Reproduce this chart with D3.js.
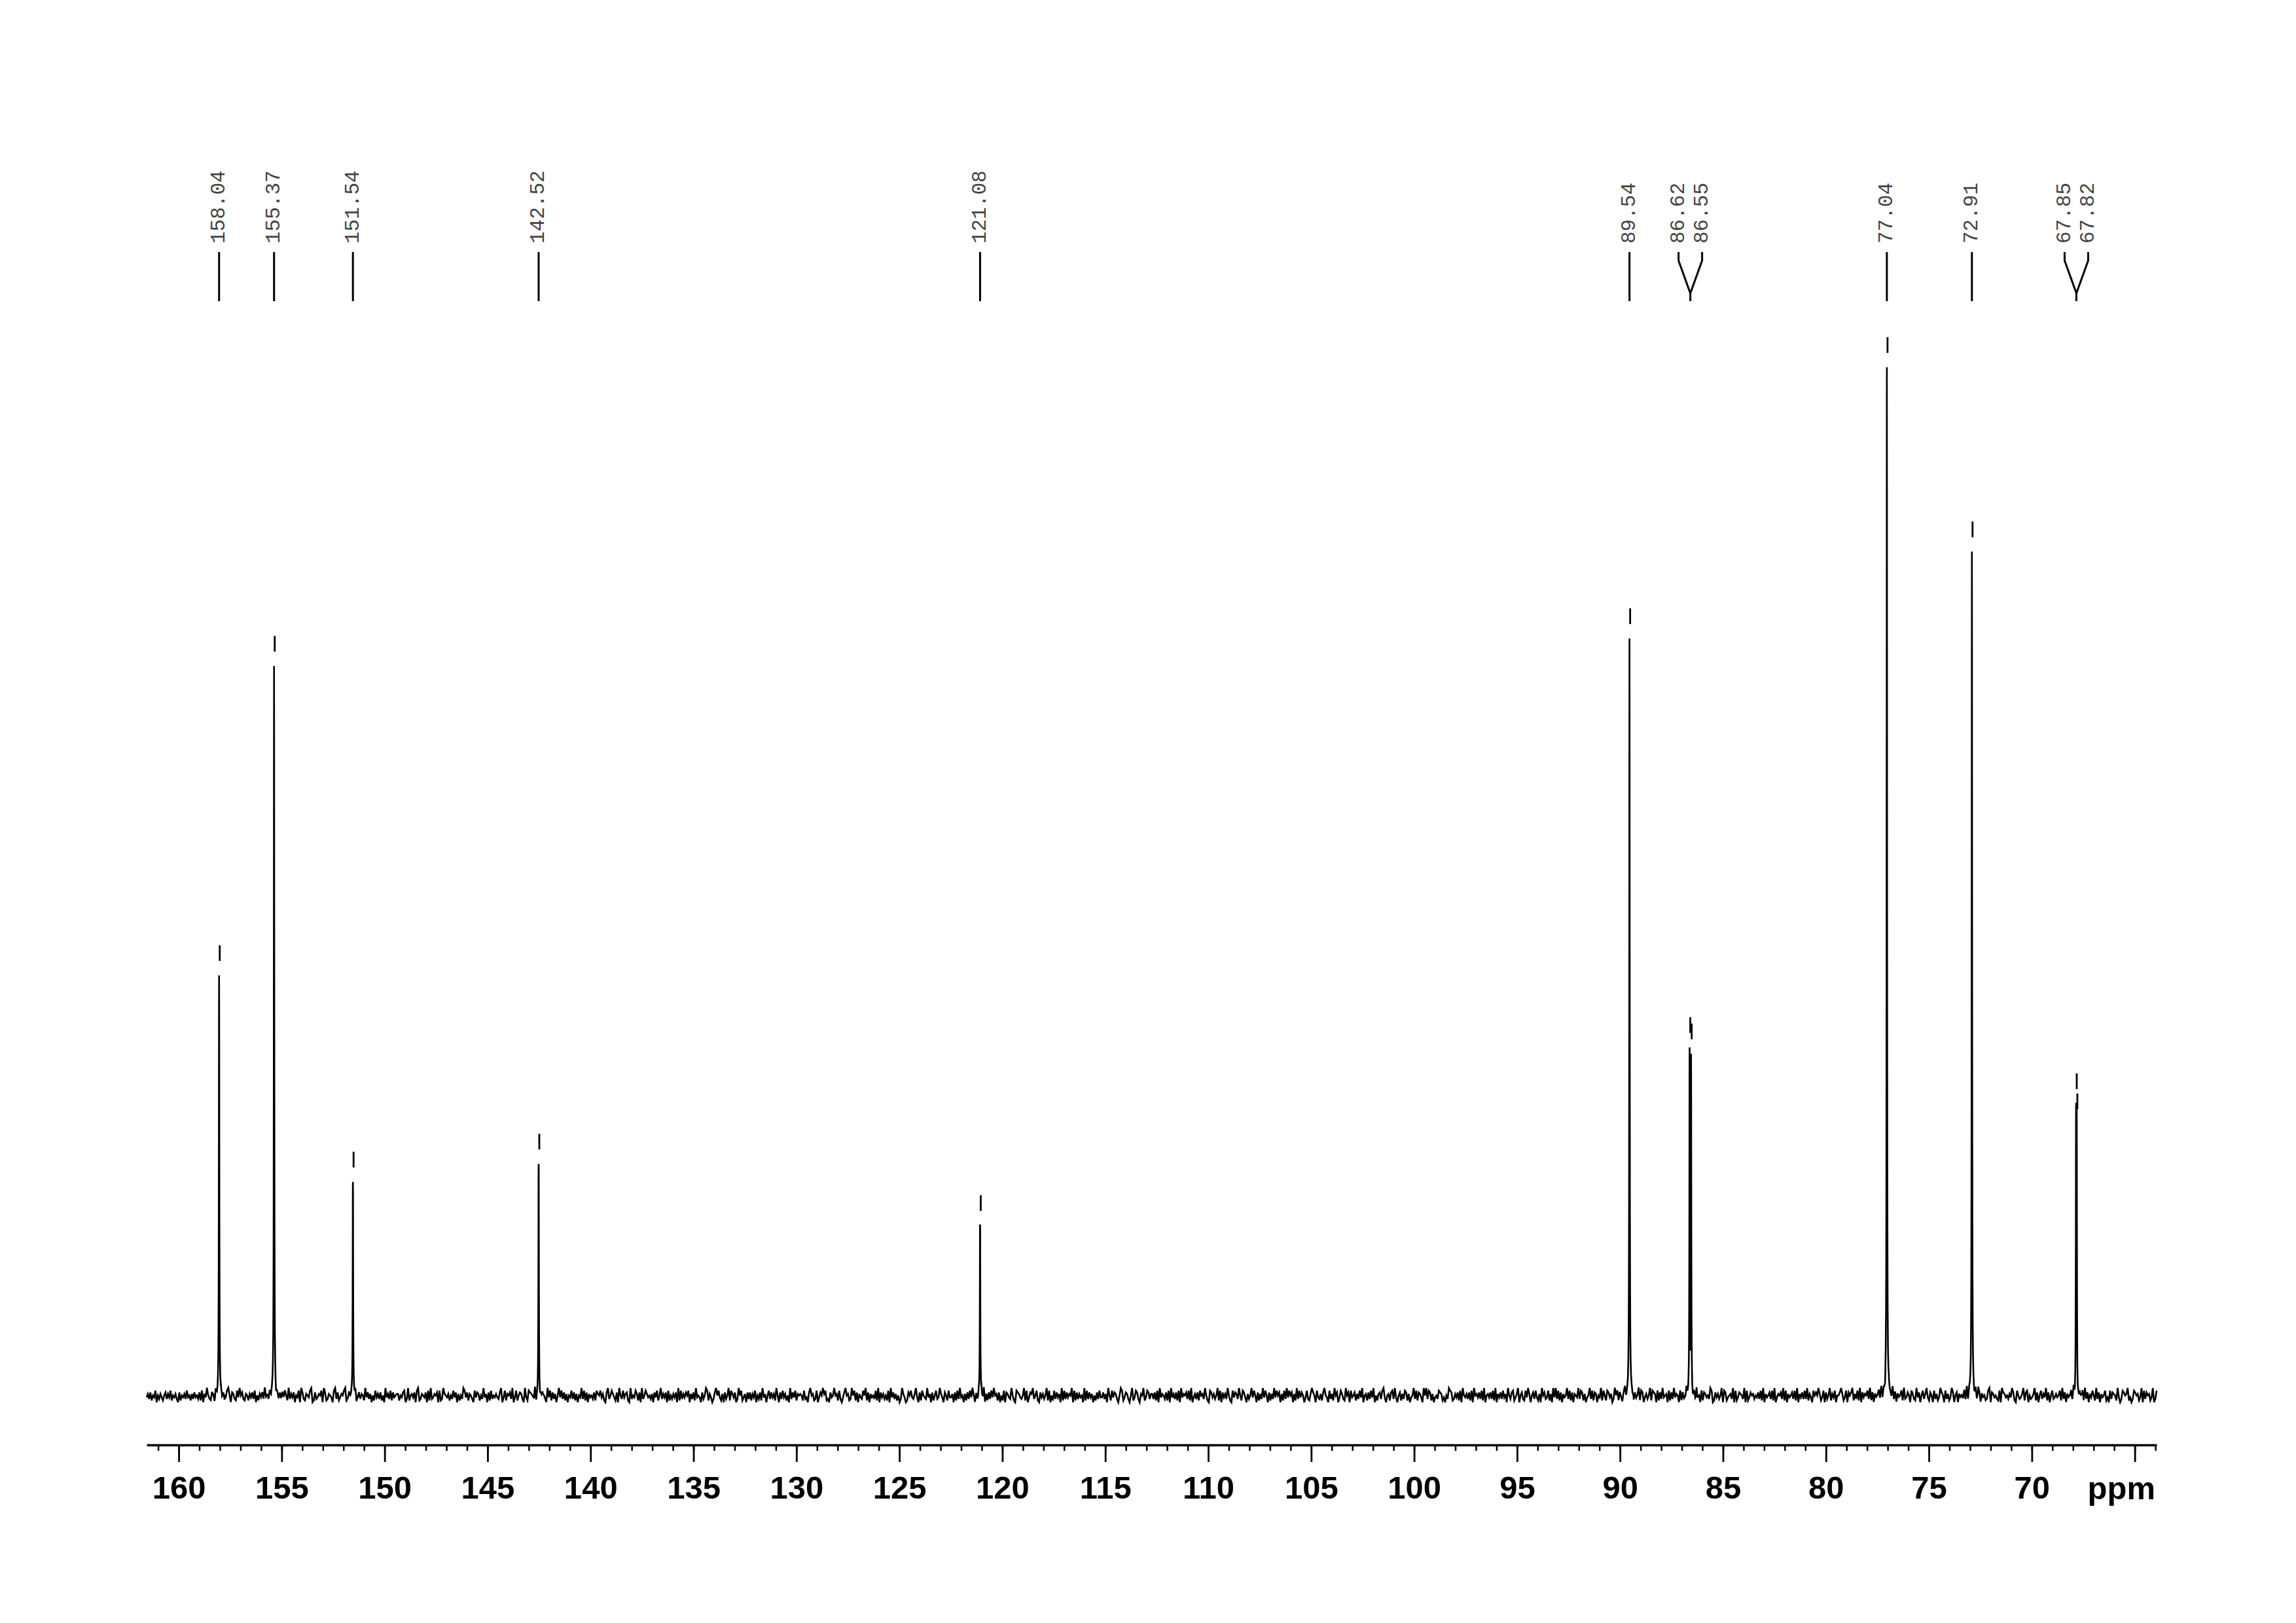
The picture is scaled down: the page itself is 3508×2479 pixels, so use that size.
<!DOCTYPE html>
<html><head><meta charset="utf-8">
<script src="https://cdn.jsdelivr.net/npm/d3@7"></script>
<style>html,body{margin:0;padding:0;background:#fff;}svg{display:block}</style>
</head><body>
<script>
// ---- data ----
const peakPpm    = [158.04, 155.37, 151.54, 142.52, 121.08, 89.54, 86.62, 86.55, 77.04, 72.91, 67.85, 67.82];
const peakHeight = [42.6,   71.8,   23.1,   24.8,   19.0,   74.4,  35.8,  35.2,  100,   82.6,  30.5,  28.6];
const peakLabels = ["158.04","155.37","151.54","142.52","121.08","89.54","86.62","86.55","77.04","72.91","67.85","67.82"];
const labelGroups = [[0],[1],[2],[3],[4],[5],[6,7],[8],[9],[10,11]];
const xMajorTicks = [160,155,150,145,140,135,130,125,120,115,110,105,100,95,90,85,80,75,70,65];
const xTickLabels = ["160","155","150","145","140","135","130","125","120","115","110","105","100","95","90","85","80","75","70",""];
const axisUnit = "ppm";
const ppmRange = [161.56, 63.94];
const noiseLevels = [-0.8,-0.55,-0.38,-0.24,-0.09,0.09,0.24,0.38,0.55,0.8];
const noiseTrace =
 "4637254815364257364825463172546384526374"+
 "5372816495327618459736248951763284957326"+
 "5264738152647394527364815263748529364715"+
 "4819732654891273465819723654189372465891"+
 "3746258147365294736152846372519463827456"+
 "6254781392564718923654718293465718239654"+
 "6253847162539847265318476253946172835464"+
 "3791482657391482576319428765391482575319"+
 "4827361594837261548372615493827164537286"+
 "5846217935864271953846721935486271935864"+
 "5361748259364718253647192836475816372945"+
 "4173598264137958426173592864713958246173"+
 "7264815372946158374629517384625193748265"+
 "6528341795623814759682317459562831479562"+
 "3958271643859271645382917463528194736251"+
 "3964127584369417285439461725834964175284"+
 "4617283945162738495162738491627384956271"+
 "5281764395218764359281476935821746359281"+
 "5283746192837465918273645192837461527384"+
 "4736195284763159824763159248731659248736"+
 "6372819465372819463728194657382914637285"+
 "6395218746359281746395218476395287416359"+
 "4851726394851726394857162839485716293847"+
 "5148326975184362795418362957148632957184"+
 "5726384915627384915267389415627839415726"+
 "3872614593827641959387261453876241539872"+
 "3647281954637281956473829156473829164738"+
 "4619537824691573284961573842619573482619"+
 "4938271645938271654938726145938276154928"+
 "5287461395827416935827416359287146359287"+
 "6182739456182739465182734956182739451827"+
 "6453981274635918724563918247653918247563"+
 "5473829164573829146573928164573829164738"+
 "3926418575962481735926481557962481757926"+
 "3829174658392716458392716485392716458293"+
 "4751863294715836942751836249751836249715"+
 "7164538291764538297164523891764532819764"+
 "5364972185346927815346927158364927158346"+
 "4582937164582937146582937164852937164582"+
 "4183765294138756924138756249183756249138";
const peakWidth = 0.012;

// ---- drawing ----
const W = 3508, H = 2479;
const svg = d3.select("body").append("svg").attr("width", W).attr("height", H)
  .style("background", "#fff");
svg.append("rect").attr("width", W).attr("height", H).attr("fill", "#fff");

const x = d3.scaleLinear().domain(ppmRange).range([224, 3295]);
const y = d3.scaleLinear().domain([0, 100]).range([2133, 515]);

// samples
const n = noiseTrace.length;
const step = (ppmRange[0] - ppmRange[1]) / (n - 1);
const pts = [];
for (let i = 0; i < n; i++) pts.push({ppm: ppmRange[0] - i * step, noise: noiseLevels[+noiseTrace[i]]});
const offs = [-0.3,-0.2,-0.14,-0.1,-0.075,-0.055,-0.04,-0.03,-0.022,-0.015,-0.01,-0.005,0,
               0.005,0.01,0.015,0.022,0.03,0.04,0.055,0.075,0.1,0.14,0.2,0.3];
peakPpm.forEach(p => offs.forEach(o => {
  const q = p + o;
  const i = Math.max(0, Math.min(n - 1, Math.round((ppmRange[0] - q) / step)));
  pts.push({ppm: q, noise: noiseLevels[+noiseTrace[i]] * 0.5});
}));
pts.sort((a, b) => b.ppm - a.ppm);
pts.forEach(d => {
  let lmax = 0;
  let limit = Infinity;
  peakPpm.forEach((p, k) => {
    const dx = d.ppm - p;
    const L = peakHeight[k] * peakWidth * peakWidth / (dx * dx + peakWidth * peakWidth);
    if (L > lmax) lmax = L;
    if (Math.abs(dx) < 0.06) limit = Math.min(limit, y(peakHeight[k]) + 46);
  });
  let py = y(d.noise + lmax);
  if (limit !== Infinity) py = Math.max(py, limit);
  d.py = py;
});

svg.append("path").datum(pts)
  .attr("d", d3.line().x(d => x(d.ppm)).y(d => d.py))
  .attr("fill", "none").attr("stroke", "#000").attr("stroke-width", 2.6)
  .attr("stroke-linejoin", "miter");

// apex dashes
svg.append("g").selectAll("line").data(peakPpm).join("line")
  .attr("x1", (p) => x(p) + 1).attr("x2", (p) => x(p) + 1)
  .attr("y1", (p, i) => y(peakHeight[i])).attr("y2", (p, i) => y(peakHeight[i]) + 24)
  .attr("stroke", "#000").attr("stroke-width", 2.8);

// axis
const axisY = 2207;
const minorAxis = d3.axisBottom(x).tickValues(d3.range(64, 162)).tickSize(9).tickSizeOuter(0).tickFormat("");
const gMin = svg.append("g").attr("transform", `translate(0,${axisY})`).call(minorAxis);
gMin.select(".domain").attr("stroke-width", 3.5).attr("stroke", "#000");
gMin.selectAll(".tick line").attr("stroke-width", 2.5).attr("stroke", "#000");

const majorAxis = d3.axisBottom(x).tickValues(xMajorTicks).tickSize(26).tickSizeOuter(0)
  .tickFormat((d, i) => xTickLabels[i]).tickPadding(21);
const gMaj = svg.append("g").attr("transform", `translate(0,${axisY})`).call(majorAxis);
gMaj.select(".domain").remove();
gMaj.selectAll(".tick line").attr("stroke-width", 2.8).attr("stroke", "#000");
gMaj.selectAll(".tick text").attr("font-family", "'Liberation Sans', Arial, sans-serif")
  .attr("font-weight", "bold").attr("font-size", 49).attr("fill", "#000");

svg.append("text").attr("x", 3293).attr("y", 2290).attr("text-anchor", "end")
  .attr("font-family", "'Liberation Sans', Arial, sans-serif").attr("font-weight", "bold")
  .attr("font-size", 49).attr("fill", "#000").text(axisUnit);

// peak labels
const gl = svg.append("g");
labelGroups.forEach(grp => {
  const cx = d3.mean(grp, k => x(peakPpm[k]));
  const spread = 36;
  const lxs = grp.map((k, j) => cx + (j - (grp.length - 1) / 2) * spread);
  grp.forEach((k, j) => {
    gl.append("text")
      .attr("transform", `translate(${lxs[j]},372) rotate(-90)`)
      .attr("text-anchor", "start").attr("dominant-baseline", "central")
      .attr("font-family", "'Liberation Mono', 'DejaVu Sans Mono', monospace")
      .attr("font-size", 31).attr("fill", "#444").text(peakLabels[k]);
  });
  let d;
  if (grp.length === 1) {
    d = `M${cx},385V460`;
  } else {
    d = lxs.map(lx => `M${lx},385V398L${cx},448`).join("") + `M${cx},448V460`;
  }
  gl.append("path").attr("d", d).attr("fill", "none").attr("stroke", "#000")
    .attr("stroke-width", 3).attr("stroke-linejoin", "miter");
});
</script>
</body></html>
